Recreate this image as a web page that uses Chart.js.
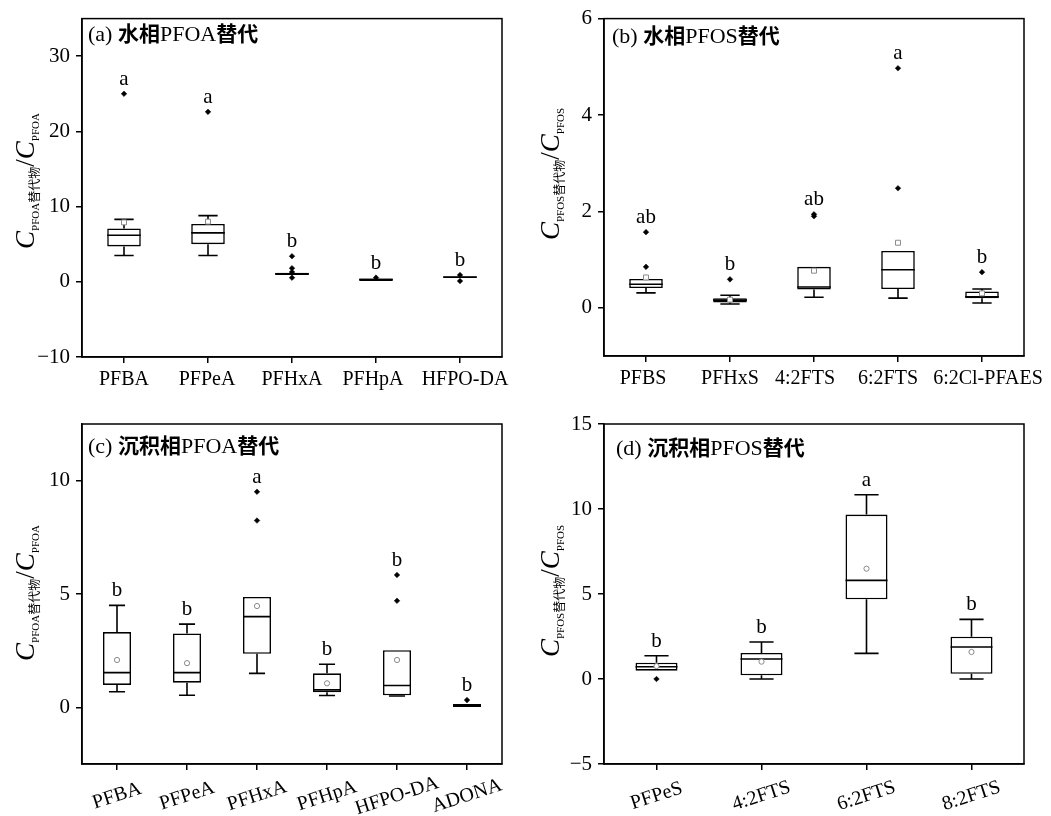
<!DOCTYPE html>
<html>
<head>
<meta charset="utf-8">
<script src="https://cdn.jsdelivr.net/npm/chart.js@4.4.0/dist/chart.umd.min.js"></script>
<style>
  body { margin: 0; background: #fff; }
  #wrap { position: relative; width: 1051px; height: 816px; font-family: "Liberation Serif", "Noto Sans CJK SC", serif; color: #000; }
  canvas { position: absolute; }
  .ptitle { position: absolute; font-size: 22px; line-height: 1; white-space: nowrap; }
  .ptitle .cn { font-family: "Noto Sans CJK SC"; font-weight: bold; font-size: 21px; }
  .ytitle { position: absolute; transform: translate(-50%, -50%) rotate(-90deg); white-space: nowrap; font-size: 27px; line-height: 1; }
  .ytitle sub { font-size: 11px; font-style: normal; vertical-align: -5px; }
  .ytitle sub .cn { font-family: "Noto Sans CJK SC"; font-size: 12px; }
</style>
</head>
<body>
<div id="wrap">
  <canvas id="chartA" width="525" height="400" style="left:0;top:0"></canvas>
  <canvas id="chartB" width="526" height="400" style="left:525px;top:0"></canvas>
  <canvas id="chartC" width="525" height="416" style="left:0;top:400px"></canvas>
  <canvas id="chartD" width="526" height="416" style="left:525px;top:400px"></canvas>

  <div class="ptitle" style="left:88px;top:22px">(a) <span class="cn">水相</span>PFOA<span class="cn">替代</span></div>
  <div class="ptitle" style="left:612px;top:24px">(b) <span class="cn">水相</span>PFOS<span class="cn">替代</span></div>
  <div class="ptitle" style="left:88px;top:434px">(c) <span class="cn">沉积相</span>PFOA<span class="cn">替代</span></div>
  <div class="ptitle" style="left:616px;top:436px">(d) <span class="cn">沉积相</span>PFOS<span class="cn">替代</span></div>

  <div class="ytitle" style="left:26px;top:181px"><i>C</i><sub>PFOA<span class="cn">替代物</span></sub>/<i>C</i><sub>PFOA</sub></div>
  <div class="ytitle" style="left:551px;top:174px"><i>C</i><sub>PFOS<span class="cn">替代物</span></sub>/<i>C</i><sub>PFOS</sub></div>
  <div class="ytitle" style="left:26px;top:593px"><i>C</i><sub>PFOA<span class="cn">替代物</span></sub>/<i>C</i><sub>PFOA</sub></div>
  <div class="ytitle" style="left:551px;top:591px"><i>C</i><sub>PFOS<span class="cn">替代物</span></sub>/<i>C</i><sub>PFOS</sub></div>
</div>

<script>
// ---- (a) 水相 PFOA 替代
var catsA = ['PFBA', 'PFPeA', 'PFHxA', 'PFHpA', 'HFPO-DA'];
var lowA = [3.5, 3.5, 0.9, 0.1, 0.55];
var q1A = [4.7, 5.0, 0.9, 0.1, 0.55];
var medA = [6.2, 6.5, 1.05, 0.3, 0.62];
var q3A = [7.1, 7.7, 1.2, 0.45, 0.7];
var highA = [8.3, 8.8, 1.2, 0.45, 0.7];
var meanA = [7.9, 8.0, null, null, null];
var outA = [[25.0], [22.6], [3.4, 1.8, 1.3, 0.55], [0.55], [0.9, 0.1]];
var sigA = ['a', 'a', 'b', 'b', 'b'];
var ticksA = [-10, 0, 10, 20, 30];

// ---- (b) 水相 PFOS 替代
var catsB = ['PFBS', 'PFHxS', '4:2FTS', '6:2FTS', '6:2Cl-PFAES'];
var lowB = [0.31, 0.08, 0.22, 0.2, 0.1];
var q1B = [0.41, 0.11, 0.38, 0.39, 0.2];
var medB = [0.49, 0.16, 0.43, 0.79, 0.23];
var q3B = [0.6, 0.2, 0.85, 1.18, 0.34];
var highB = [0.6, 0.26, 0.85, 1.18, 0.39];
var meanB = [0.63, 0.17, 0.77, 1.35, 0.3];
var outB = [[1.57, 0.85], [0.59], [1.9, 1.94], [4.97, 2.48], [0.74]];
var sigB = ['ab', 'b', 'ab', 'a', 'b'];
var ticksB = [0, 2, 4, 6];

// ---- (c) 沉积相 PFOA 替代
var catsC = ['PFBA', 'PFPeA', 'PFHxA', 'PFHpA', 'HFPO-DA', 'ADONA'];
var lowC = [0.69, 0.53, 1.5, 0.52, 0.5, 0.0];
var q1C = [0.99, 1.09, 2.36, 0.66, 0.53, 0.0];
var medC = [1.53, 1.53, 4.0, 0.77, 0.96, 0.05];
var q3C = [3.32, 3.26, 4.87, 1.5, 2.52, 0.15];
var highC = [4.5, 3.67, 4.87, 1.9, 2.52, 0.15];
var meanC = [2.09, 1.95, 4.47, 1.06, 2.09, null];
var outC = [[], [], [9.51, 8.24], [], [5.84, 4.7], [0.32]];
var sigC = ['b', 'b', 'a', 'b', 'b', 'b'];
var ticksC = [0, 5, 10];

// ---- (d) 沉积相 PFOS 替代
var catsD = ['PFPeS', '4:2FTS', '6:2FTS', '8:2FTS'];
var lowD = [0.49, 0.0, 1.51, 0.0];
var q1D = [0.49, 0.22, 4.69, 0.31];
var medD = [0.72, 1.18, 5.8, 1.88];
var q3D = [0.96, 1.53, 9.67, 2.49];
var highD = [1.37, 2.18, 10.84, 3.51];
var meanD = [0.76, 1.02, 6.49, 1.59];
var outD = [[0.0], [], [], []];
var sigD = ['b', 'b', 'a', 'b'];
var ticksD = [-5, 0, 5, 10, 15];


var SERIF = '"Liberation Serif", "Noto Sans CJK SC", serif';

// 상자그림의 수염, 중앙값, 테두리, 유의성 문자, x축 라벨을 그리는 플러그인
function boxPlugin(st, cfg) {
    return {
        id: 'boxParts',
        afterDatasetDraw: function (chart, args) {
            if (args.index !== 0) return; // 상자(bar) 다음에만
            var ctx = chart.ctx;
            var xs = chart.scales.x, ys = chart.scales.y;
            var bars = chart.getDatasetMeta(0).data;
            var capHalf = (xs.width / st.cats.length) * 0.115;
            ctx.save();
            ctx.strokeStyle = '#000';
            ctx.lineWidth = 1.6;
            for (var i = 0; i < st.cats.length; i++) {
                var x = xs.getPixelForValue(i);
                var half = bars[i].width / 2;
                var yLo = ys.getPixelForValue(st.low[i]);
                var yQ1 = ys.getPixelForValue(st.q1[i]);
                var yMed = ys.getPixelForValue(st.med[i]);
                var yQ3 = ys.getPixelForValue(st.q3[i]);
                var yHi = ys.getPixelForValue(st.high[i]);
                ctx.beginPath();
                if (yHi < yQ3 - 0.5) {
                    ctx.moveTo(x, yQ3); ctx.lineTo(x, yHi);
                    ctx.moveTo(x - capHalf, yHi); ctx.lineTo(x + capHalf, yHi);
                }
                if (yLo > yQ1 + 0.5) {
                    ctx.moveTo(x, yQ1); ctx.lineTo(x, yLo);
                    ctx.moveTo(x - capHalf, yLo); ctx.lineTo(x + capHalf, yLo);
                }
                ctx.moveTo(x - half, yMed); ctx.lineTo(x + half, yMed);
                ctx.stroke();
            }
            ctx.restore();
        },
        afterDraw: function (chart) {
            var ctx = chart.ctx;
            var a = chart.chartArea;
            var xs = chart.scales.x, ys = chart.scales.y;
            ctx.save();
            // 바깥 테두리
            ctx.strokeStyle = '#000';
            ctx.lineWidth = 1.5;
            ctx.strokeRect(a.left, a.top, a.right - a.left, a.bottom - a.top);

            ctx.fillStyle = '#000';
            ctx.font = '21px ' + SERIF;
            ctx.textAlign = 'center';
            ctx.textBaseline = 'alphabetic';
            for (var i = 0; i < st.cats.length; i++) {
                var top = Math.max.apply(null, [st.high[i]].concat(st.out[i]));
                ctx.fillText(st.sig[i], xs.getPixelForValue(i), ys.getPixelForValue(top) - 9);
            }

            // x축 라벨 (가운데 정렬, 필요하면 회전)
            ctx.font = '20px ' + SERIF;
            for (var j = 0; j < st.cats.length; j++) {
                var nx = cfg.nudge ? cfg.nudge[j] : 0;
                ctx.save();
                if (cfg.rotate) {
                    ctx.textBaseline = 'middle';
                    ctx.translate(xs.getPixelForValue(j) + nx, a.bottom + 32);
                    ctx.rotate(-18 * Math.PI / 180);
                } else {
                    ctx.textBaseline = 'alphabetic';
                    ctx.translate(xs.getPixelForValue(j) + nx, a.bottom + 28);
                }
                ctx.fillText(st.cats[j], 0, 0);
                ctx.restore();
            }
            ctx.restore();
        }
    };
}

function makeBox(id, cats, low, q1, med, q3, high, mean, outl, sig, tickVals, cfg) {
    var outPts = [];
    outl.forEach(function (arr, i) {
        arr.forEach(function (v) { outPts.push({ x: cats[i], y: v }); });
    });
    var meanPts = [];
    mean.forEach(function (v, i) {
        if (v !== null) meanPts.push({ x: cats[i], y: v });
    });

    var st = { cats: cats, low: low, q1: q1, med: med, q3: q3, high: high, out: outl, sig: sig };

    return new Chart(document.getElementById(id).getContext('2d'), {
        type: 'bar',
        data: {
            labels: cats,
            datasets: [{
                type: 'bar',
                data: q1.map(function (v, i) { return [v, q3[i]]; }),
                backgroundColor: '#fff',
                borderColor: '#000',
                borderWidth: 1.6,
                borderSkipped: false,
                barPercentage: 0.4,
                categoryPercentage: 1,
                order: 3
            }, {
                type: 'line',
                data: meanPts,
                showLine: false,
                pointStyle: cfg.meanStyle,
                pointRadius: cfg.meanStyle === 'rect' ? 3.5 : 2.6,
                pointBackgroundColor: '#fff',
                pointBorderColor: '#8a8a8a',
                pointBorderWidth: 1,
                order: 2
            }, {
                type: 'line',
                data: outPts,
                showLine: false,
                pointStyle: 'rectRot',
                pointRadius: 2.8,
                pointBackgroundColor: '#000',
                pointBorderColor: '#000',
                pointBorderWidth: 0.5,
                order: 1
            }]
        },
        options: {
            responsive: false,
            animation: false,
            layout: { padding: { left: 0, top: cfg.top, right: cfg.right, bottom: 0 } },
            scales: {
                x: {
                    type: 'category',
                    offset: true,
                    grid: { offset: false, drawOnChartArea: false, drawTicks: true, tickLength: 6, color: '#000', lineWidth: 1.5 },
                    border: { color: '#000', width: 1.5 },
                    ticks: { display: false },
                    afterFit: function (s) { s.height = cfg.xh; }
                },
                y: {
                    type: 'linear',
                    min: cfg.min,
                    max: cfg.max,
                    grid: { drawOnChartArea: false, tickLength: 6, color: '#000', lineWidth: 1.5 },
                    border: { color: '#000', width: 1.5 },
                    afterBuildTicks: function (s) {
                        s.ticks = tickVals.map(function (v) { return { value: v }; });
                    },
                    ticks: {
                        color: '#000',
                        padding: 6,
                        font: { family: SERIF, size: 21 },
                        callback: function (value) { return String(value).replace('-', '\u2212'); }
                    },
                    afterFit: function (s) { s.width = cfg.yw; }
                }
            },
            plugins: {
                legend: { display: false },
                tooltip: { enabled: false }
            }
        },
        plugins: [boxPlugin(st, cfg)]
    });
}

makeBox('chartA', catsA, lowA, q1A, medA, q3A, highA, meanA, outA, sigA, ticksA,
    { min: -10, max: 35, top: 16, right: 23, yw: 82, xh: 43, meanStyle: 'rect', rotate: false, nudge: [0, -1, 0, -3, 5] });
makeBox('chartB', catsB, lowB, q1B, medB, q3B, highB, meanB, outB, sigB, ticksB,
    { min: -1, max: 6, top: 16, right: 27, yw: 79, xh: 44, meanStyle: 'rect', rotate: false, nudge: [-3, 0, -9, -10, 6] });
makeBox('chartC', catsC, lowC, q1C, medC, q3C, highC, meanC, outC, sigC, ticksC,
    { min: -2.5, max: 12.5, top: 24, right: 23, yw: 82, xh: 52, meanStyle: 'circle', rotate: true });
makeBox('chartD', catsD, lowD, q1D, medD, q3D, highD, meanD, outD, sigD, ticksD,
    { min: -5, max: 15, top: 24, right: 27, yw: 79, xh: 52, meanStyle: 'circle', rotate: true });
</script>
</body>
</html>
